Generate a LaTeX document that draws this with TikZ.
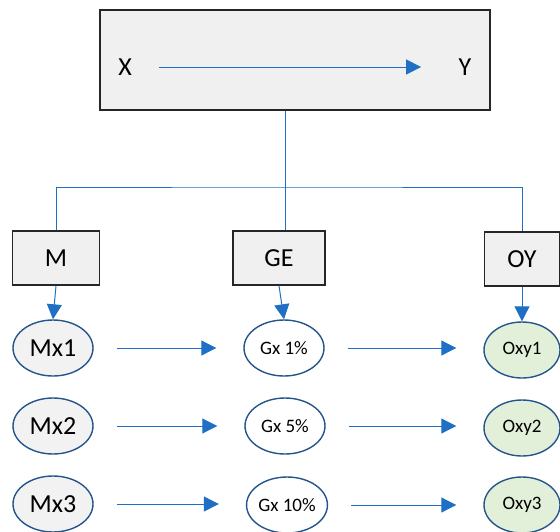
\documentclass[tikz,border=0pt]{standalone}
\usepackage{fontspec}
\setmainfont{Carlito}
\usetikzlibrary{positioning}
\usetikzlibrary{shapes.geometric}
\usetikzlibrary{arrows.meta}
\definecolor{linkblue}{RGB}{31,112,196}
\definecolor{ringblue}{RGB}{38,84,140}
\definecolor{boxgray}{RGB}{240,240,240}
\definecolor{mxgray}{RGB}{242,242,242}
\definecolor{oxygreen}{RGB}{226,240,217}
\tikzset{>={Triangle[length=15pt,width=15pt]}}

\begin{document}
\begin{tikzpicture}[x=1pt,y=-1pt,
		hbox/.style={rectangle, draw=black!85, line width=1.5pt, fill=boxgray, inner sep=0pt, minimum height=54pt, font=\fontsize{26}{28}\selectfont},
		state/.style={ellipse, draw=ringblue, line width=1.4pt, inner sep=0pt, minimum width=80pt, minimum height=56pt},
		link/.style={draw=linkblue, line width=1pt},
		flow/.style={link, ->, shorten <=23pt, shorten >=27pt}]
		\useasboundingbox (0,0) rectangle (560,531);
		% top box
		\node[hbox, minimum width=390pt, minimum height=100pt] (top) at (295,60) {};
		\node[font=\fontsize{26}{28}\selectfont] (X) at (125,67) {X};
		\node[font=\fontsize{26}{28}\selectfont] (Y) at (465,67) {Y};
		\draw[link,->] (X) -- (Y) [shorten <=24pt, shorten >=34pt];
		% three groups
		\node[hbox, minimum width=87pt] (M) at (56,258) {M};
		\node[hbox, minimum width=92pt] (GE) at (279,258) {GE};
		\node[hbox, minimum width=75pt] (OY) at (522,259) {OY};
		\coordinate (hub) at (285,187);
		\draw[link] (top.south -| hub) -- (hub);
		\draw[link] (hub) -- (GE.north -| hub);
		\draw[link] (M.north) |- (hub) -| (OY.north);
		% rows
		\begin{scope}[every node/.style={state, font=\fontsize{26}{28}\selectfont, fill=mxgray}]
		  \node (Mx1) at (53,348) {Mx1};
		  \node (Mx2) at (53,426) {Mx2};
		  \node (Mx3) at (53,504) {Mx3};
		\end{scope}
		\begin{scope}[every node/.style={state, font=\fontsize{19}{21}\selectfont, fill=white}]
		  \node (Gx1) at (284,348) {Gx 1\%};
		  \node (Gx2) at (285,426) {Gx 5\%};
		  \node (Gx3) at (287,505) {Gx 10\%};
		\end{scope}
		\begin{scope}[every node/.style={state, font=\fontsize{19}{21}\selectfont, fill=oxygreen, minimum width=76pt}]
		  \node (Oxy1) at (522,350) {Oxy1};
		  \node (Oxy2) at (522,428) {Oxy2};
		  \node (Oxy3) at (522,505) {Oxy3};
		\end{scope}
		\draw[link,->] (M.south) -- (Mx1.north);
		\draw[link,->] (GE.south) -- (Gx1.north);
		\draw[link,->] (OY.south) -- (Oxy1.north);
		\foreach \i in {1,2,3} {
		  \draw[flow] (Mx\i.east) -- (Mx\i.east -| Gx\i.west);
		  \draw[flow] (Gx\i.east) -- (Gx\i.east -| Oxy\i.west);
		}
	\end{tikzpicture}
\end{document}
